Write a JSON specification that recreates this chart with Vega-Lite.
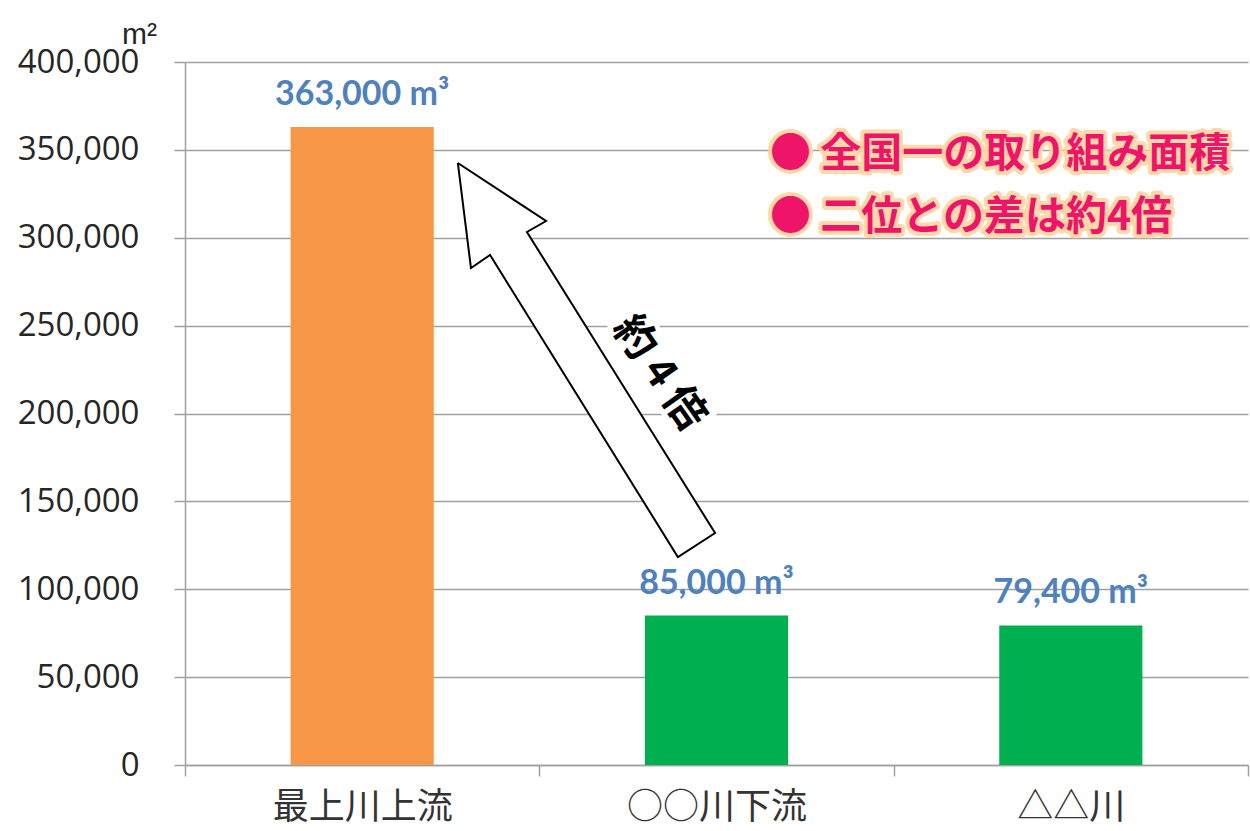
{
  "$schema": "https://vega.github.io/schema/vega-lite/v6.json",
  "autosize": {"type": "none"},
  "width": 1063,
  "height": 703,
  "padding": {"left": 185, "top": 62, "right": 2, "bottom": 66},
  "background": "white",
  "config": {"view": {"stroke": null}},
  "datasets": {
    "bars": [
      {"site": "最上川上流", "area": 363000, "label": "363,000 m³", "kind": "top"},
      {"site": "○○川下流", "area": 85000, "label": "85,000 m³", "kind": "other"},
      {"site": "△△川", "area": 79400, "label": "79,400 m³", "kind": "other"}
    ],
    "arrow": [
      {"i": 0, "pos": 0.770, "area": 342550},
      {"i": 1, "pos": 1.019, "area": 309530},
      {"i": 2, "pos": 0.965, "area": 303280},
      {"i": 3, "pos": 1.496, "area": 132000},
      {"i": 4, "pos": 1.391, "area": 118350},
      {"i": 5, "pos": 0.861, "area": 290190},
      {"i": 6, "pos": 0.807, "area": 282800},
      {"i": 7, "pos": 0.770, "area": 342550}
    ],
    "notes": [
      {"pos": 1.651, "area": 347100, "text": "● 全国一の取り組み面積"},
      {"pos": 1.651, "area": 311240, "text": "● 二位との差は約4倍"}
    ],
    "ratio": [
      {"pos": 1.338, "area": 223050, "text": "約 4 倍"}
    ]
  },
  "encoding": {
    "y": {
      "field": "area", "type": "quantitative",
      "scale": {"domain": [0, 400000], "nice": false},
      "axis": {
        "values": [0, 50000, 100000, 150000, 200000, 250000, 300000, 350000, 400000],
        "format": ",.0f",
        "title": "m²", "titleAngle": 0, "titleX": -46, "titleY": -19,
        "titleFont": "Liberation Sans", "titleFontSize": 30, "titleFontWeight": "normal",
        "titleAlign": "center", "titleBaseline": "alphabetic", "titleColor": "#262626",
        "labelFont": "Open Sans", "labelFontSize": 33, "labelColor": "#262626",
        "labelPadding": 35, "tickSize": 11, "tickColor": "#A0A0A0", "tickWidth": 1.5,
        "domainColor": "#A0A0A0", "domainWidth": 1.5,
        "grid": true, "gridColor": "#A0A0A0", "gridWidth": 1.5
      }
    }
  },
  "layer": [
    {
      "data": {"name": "bars"},
      "encoding": {
        "x": {
          "field": "site", "type": "nominal", "sort": null,
          "scale": {"paddingInner": 0, "paddingOuter": 0},
          "axis": {
            "title": null, "tickBand": "extent", "labelAngle": 0, "labelLimit": 0,
            "labelFont": "Noto Sans CJK JP", "labelFontSize": 36, "labelColor": "#333333",
            "labelPadding": 14, "tickSize": 11, "tickColor": "#A0A0A0", "tickWidth": 1.5,
            "domainColor": "#A0A0A0", "domainWidth": 1.5, "grid": false
          }
        }
      },
      "layer": [
        {
          "mark": {"type": "bar", "width": {"band": 0.404}},
          "encoding": {
            "color": {
              "field": "kind", "type": "nominal",
              "scale": {"domain": ["top", "other"], "range": ["#F79646", "#00B050"]},
              "legend": null
            }
          }
        },
        {
          "mark": {"type": "text", "dy": -32, "baseline": "middle", "font": "Lato", "fontSize": 34, "fontWeight": "bold", "color": "#4F81BD"},
          "encoding": {"text": {"field": "label"}}
        }
      ]
    },
    {
      "data": {"name": "arrow"},
      "mark": {"type": "line", "fill": "white", "stroke": "black", "strokeWidth": 2, "strokeJoin": "miter"},
      "encoding": {
        "x": {"field": "pos", "type": "quantitative", "scale": {"domain": [0, 3], "nice": false, "zero": false}, "axis": null},
        "order": {"field": "i"}
      }
    },
    {
      "data": {"name": "ratio"},
      "layer": [
        {"mark": {"type": "text", "angle": 55, "font": "Noto Sans CJK JP", "fontWeight": "bold", "fontSize": 42, "stroke": "white", "strokeWidth": 10, "fill": "white", "align": "center", "baseline": "middle"}},
        {"mark": {"type": "text", "angle": 55, "font": "Noto Sans CJK JP", "fontWeight": "bold", "fontSize": 42, "fill": "black", "align": "center", "baseline": "middle"}}
      ],
      "encoding": {
        "x": {"field": "pos", "type": "quantitative", "scale": {"domain": [0, 3], "nice": false, "zero": false}, "axis": null},
        "text": {"field": "text"}
      }
    },
    {
      "data": {"name": "notes"},
      "layer": [
        {"mark": {"type": "text", "font": "Noto Sans CJK JP", "fontWeight": "bold", "fontSize": 41, "stroke": "#FFD3A0", "strokeWidth": 8, "strokeOpacity": 0.9, "strokeJoin": "round", "fill": "#FFD3A0", "align": "left", "baseline": "middle"}},
        {"mark": {"type": "text", "font": "Noto Sans CJK JP", "fontWeight": "bold", "fontSize": 41, "fill": "#EE1468", "align": "left", "baseline": "middle"}}
      ],
      "encoding": {
        "x": {"field": "pos", "type": "quantitative", "scale": {"domain": [0, 3], "nice": false, "zero": false}, "axis": null},
        "text": {"field": "text"}
      }
    }
  ],
  "resolve": {"scale": {"x": "independent"}}
}
